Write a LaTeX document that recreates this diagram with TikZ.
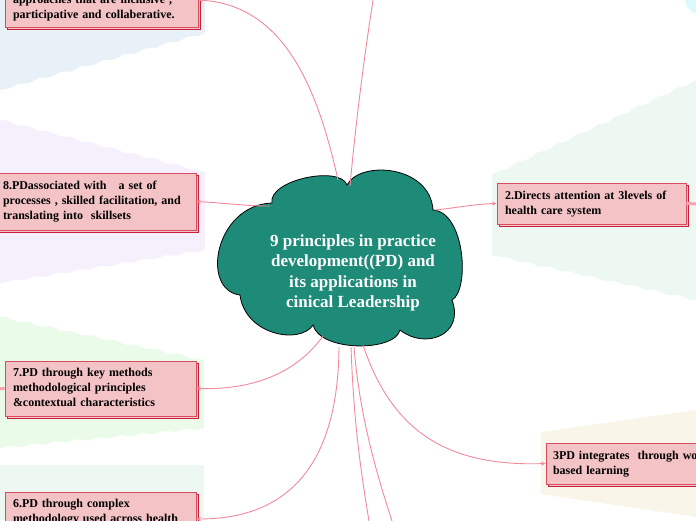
\documentclass[tikz,border=0pt]{standalone}
\usepackage{fontspec}
\setmainfont{Liberation Serif}
\usetikzlibrary{shadows,decorations.pathmorphing,arrows.meta}
\definecolor{boxfill}{HTML}{F4C3C6}
\definecolor{boxline}{HTML}{D94B5E}
\definecolor{shadowline}{HTML}{C8203C}
\definecolor{linkc}{HTML}{F28A9B}
\definecolor{stubc}{HTML}{F4A3AD}
\definecolor{teal}{HTML}{1E8A78}
\definecolor{bgblue}{HTML}{E8F1F8}
\definecolor{bglav}{HTML}{F5F0FC}
\definecolor{bggreen}{HTML}{EAFBEA}
\definecolor{bgmint}{HTML}{EEF8F2}
\definecolor{bgcream}{HTML}{F9F5E8}
\definecolor{bgcyan}{HTML}{DDF8FA}
\begin{document}
\begin{tikzpicture}[x=1pt,y=-1pt,
  pbox/.style={draw=boxline, fill=boxfill, line width=0.8pt,
    copy shadow={shadow xshift=2pt, shadow yshift=-2.5pt, draw=shadowline, fill=boxfill},
    inner xsep=8pt, inner ysep=0pt, align=left,
    font=\bfseries\fontsize{12}{15}\selectfont},
  link/.style={draw=linkc, line width=0.9pt},
  arr/.style={link, -{Stealth[length=4.5pt,width=4pt]}},
  stub/.style={draw=stubc, line width=3pt},
  wavy/.style={decoration={snake, amplitude=1.2pt, segment length=22pt}}
]
\useasboundingbox (0,0) rectangle (696,520);
\clip (0,0) rectangle (696,520);

% background areas
\fill[bgblue] (0,0) -- (205,0) -- (205,33) decorate[wavy]{ -- (0,90)} -- cycle;
\fill[bglav] (0,120) decorate[wavy]{ -- (205,172)} -- (205,250) decorate[wavy]{ -- (0,283)} -- cycle;
\fill[bggreen] (0,317) decorate[wavy]{ -- (204,360)} -- (204,428) decorate[wavy]{ -- (0,448)} -- cycle;
\fill[bgmint] (0,465) rectangle (204,520);
\fill[bgmint] (492,175) decorate[wavy]{ -- (696,80)} -- (696,300) decorate[wavy]{ -- (492,255)} -- cycle;
\fill[bgcream] (541,432) -- (696,410) -- (696,517) -- (541,494) -- cycle;
\fill[bgcyan] (685,0) .. controls (687,9) and (692,13) .. (696,13) -- (696,0) -- cycle;

% central cloud
\filldraw[fill=teal, draw=black, line width=0.8pt]
  (272,203) .. controls (268,180) and (340,165) .. (347,185)
  .. controls (360,160) and (430,165) .. (433,210)
  .. controls (465,212) and (470,290) .. (452,300)
  .. controls (465,335) and (425,350) .. (400,330)
  .. controls (395,352) and (320,352) .. (313,325)
  .. controls (300,345) and (245,335) .. (240,295)
  .. controls (200,290) and (215,205) .. (272,203) -- cycle;
\node[text=white, align=center, font=\bfseries\fontsize{17}{20.5}\selectfont] (ctr) at (353,273)
  {9 principles in practice\\development((PD) and\\its applications in\\cinical Leadership};

% connector start points on the cloud
\coordinate (s1) at (338,180);
\coordinate (sup) at (350,186);
\coordinate (s8) at (270,206);
\coordinate (s2) at (435,210);
\coordinate (s7) at (323,336);
\coordinate (s6) at (339,347);
\coordinate (sd1) at (351,347);
\coordinate (sd2) at (354,347);
\coordinate (s3) at (363,345);
% free ends
\coordinate (eup) at (378,-30);
\coordinate (ed1) at (373,545);
\coordinate (ed2) at (400,545);
\coordinate (e7stub) at (-20,389);
\coordinate (e2stub) at (720,205);

% nodes
\node[pbox, text width=177pt, minimum width=193pt, minimum height=54pt] (n1) at (101.5,0)
  {\strut\\approaches that are inclusive ,\\participative and collaberative.\strut};
\node[pbox, text width=185pt, minimum width=201pt, minimum height=57pt] (n8) at (95.5,201.5)
  {\strut 8.PDassociated with\ \ \ a set of\\processes , skilled facilitation, and\\translating into\ \ skillsets\strut};
\node[pbox, text width=173pt, minimum width=189pt, minimum height=41pt] (n2) at (591.5,203.5)
  {\strut 2.Directs attention at 3levels of\\health care system\strut};
\node[pbox, text width=175pt, minimum width=191pt, minimum height=55pt] (n7) at (100.5,388.5)
  {\strut 7.PD through key methods\\methodological principles\\\&contextual characteristics\strut};
\node[pbox, text width=175pt, minimum width=191pt, minimum height=54pt] (n6) at (100.5,519)
  {\strut 6.PD through complex\\methodology used across health\\\strut};
\node[pbox, inner xsep=7pt, text width=286pt, minimum width=300pt, minimum height=41pt] (n3) at (696,463.5)
  {\strut 3PD integrates\ \ through work\\based learning\strut};

% stubs to children outside the view
\draw[stub] (n7.west) -- (e7stub);
\draw[stub] (n2.east) -- (e2stub);

% connectors
\draw[arr] (s1) .. controls (318,90) and (285,5) .. (n1.east);
\draw[link] (sup) .. controls (356,120) and (366,40) .. (eup);
\draw[arr] (s8) .. controls (245,206) and (225,203) .. (n8.east);
\draw[arr] (s2) .. controls (455,208) and (475,204) .. (n2.west);
\draw[arr] (s7) .. controls (295,375) and (250,390) .. (n7.east);
\draw[arr] (s6) .. controls (338,480) and (275,519) .. (n6.east);
\draw[link] (sd1) .. controls (354,430) and (362,480) .. (ed1);
\draw[link] (sd2) .. controls (360,420) and (378,480) .. (ed2);
\draw[arr] (s3) .. controls (390,425) and (440,467) .. (n3.west);
\end{tikzpicture}
\end{document}
